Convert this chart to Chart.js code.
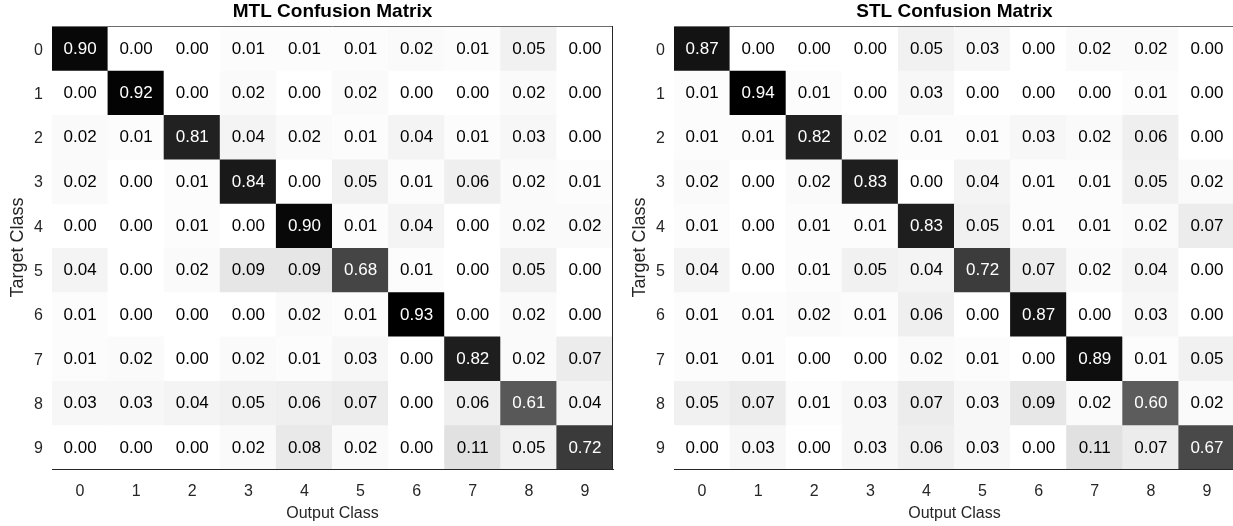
<!DOCTYPE html>
<html>
<head>
<meta charset="utf-8">
<script src="https://cdn.jsdelivr.net/npm/chart.js@4/dist/chart.umd.min.js"></script>
<style>
  html, body { margin: 0; padding: 0; background: #fff; overflow: hidden; }
  body { width: 1233px; height: 526px; position: relative; }
  .panel { position: absolute; top: 0; width: 616px; height: 526px; }
  #left { left: 0; }
  #right { left: 622px; }
</style>
</head>
<body>
<div class="panel" id="left"><canvas id="mtl" width="616" height="526"></canvas></div>
<div class="panel" id="right"><canvas id="stl" width="616" height="526"></canvas></div>
<script>
// Class labels shared by both axes
const classLabels = ['0', '1', '2', '3', '4', '5', '6', '7', '8', '9'];

// Rows = target class, columns = output class
const mtlRow0 = [0.90, 0.00, 0.00, 0.01, 0.01, 0.01, 0.02, 0.01, 0.05, 0.00];
const mtlRow1 = [0.00, 0.92, 0.00, 0.02, 0.00, 0.02, 0.00, 0.00, 0.02, 0.00];
const mtlRow2 = [0.02, 0.01, 0.81, 0.04, 0.02, 0.01, 0.04, 0.01, 0.03, 0.00];
const mtlRow3 = [0.02, 0.00, 0.01, 0.84, 0.00, 0.05, 0.01, 0.06, 0.02, 0.01];
const mtlRow4 = [0.00, 0.00, 0.01, 0.00, 0.90, 0.01, 0.04, 0.00, 0.02, 0.02];
const mtlRow5 = [0.04, 0.00, 0.02, 0.09, 0.09, 0.68, 0.01, 0.00, 0.05, 0.00];
const mtlRow6 = [0.01, 0.00, 0.00, 0.00, 0.02, 0.01, 0.93, 0.00, 0.02, 0.00];
const mtlRow7 = [0.01, 0.02, 0.00, 0.02, 0.01, 0.03, 0.00, 0.82, 0.02, 0.07];
const mtlRow8 = [0.03, 0.03, 0.04, 0.05, 0.06, 0.07, 0.00, 0.06, 0.61, 0.04];
const mtlRow9 = [0.00, 0.00, 0.00, 0.02, 0.08, 0.02, 0.00, 0.11, 0.05, 0.72];

const stlRow0 = [0.87, 0.00, 0.00, 0.00, 0.05, 0.03, 0.00, 0.02, 0.02, 0.00];
const stlRow1 = [0.01, 0.94, 0.01, 0.00, 0.03, 0.00, 0.00, 0.00, 0.01, 0.00];
const stlRow2 = [0.01, 0.01, 0.82, 0.02, 0.01, 0.01, 0.03, 0.02, 0.06, 0.00];
const stlRow3 = [0.02, 0.00, 0.02, 0.83, 0.00, 0.04, 0.01, 0.01, 0.05, 0.02];
const stlRow4 = [0.01, 0.00, 0.01, 0.01, 0.83, 0.05, 0.01, 0.01, 0.02, 0.07];
const stlRow5 = [0.04, 0.00, 0.01, 0.05, 0.04, 0.72, 0.07, 0.02, 0.04, 0.00];
const stlRow6 = [0.01, 0.01, 0.02, 0.01, 0.06, 0.00, 0.87, 0.00, 0.03, 0.00];
const stlRow7 = [0.01, 0.01, 0.00, 0.00, 0.02, 0.01, 0.00, 0.89, 0.01, 0.05];
const stlRow8 = [0.05, 0.07, 0.01, 0.03, 0.07, 0.03, 0.09, 0.02, 0.60, 0.02];
const stlRow9 = [0.00, 0.03, 0.00, 0.03, 0.06, 0.03, 0.00, 0.11, 0.07, 0.67];

const mtlMatrix = [mtlRow0, mtlRow1, mtlRow2, mtlRow3, mtlRow4, mtlRow5, mtlRow6, mtlRow7, mtlRow8, mtlRow9];
const stlMatrix = [stlRow0, stlRow1, stlRow2, stlRow3, stlRow4, stlRow5, stlRow6, stlRow7, stlRow8, stlRow9];

const FONT = "'Liberation Sans', Arial, Helvetica, sans-serif";
const AXIS_COLOR = '#262626';

// Inverted gray colormap scaled to the matrix maximum
function grayFor(v, vmax) {
  const t = Math.max(0, Math.min(1, v / vmax));
  const g = Math.round(255 * (1 - t));
  return `rgb(${g},${g},${g})`;
}

// Writes each cell's value in its centre, white on dark cells
const cellLabels = {
  id: 'cellLabels',
  afterDatasetsDraw(chart) {
    const { ctx } = chart;
    const matrix = chart.config.options.plugins.cellLabels.matrix;
    ctx.save();
    ctx.font = `17px ${FONT}`;
    ctx.textAlign = 'center';
    ctx.textBaseline = 'middle';
    chart.data.datasets.forEach((ds, r) => {
      const meta = chart.getDatasetMeta(r);
      meta.data.forEach((bar, c) => {
        const v = matrix[r][c];
        const cy = (bar.y + bar.base) / 2;
        ctx.fillStyle = v > 0.5 ? '#ffffff' : '#000000';
        ctx.fillText(v.toFixed(2), bar.x, cy + 1);
      });
    });
    ctx.restore();
  }
};

// Closes the box around the plot area and writes the panel heading
const frameAndHeading = {
  id: 'frameAndHeading',
  afterDraw(chart) {
    const { ctx, chartArea: a } = chart;
    const heading = chart.config.options.plugins.frameAndHeading.text;
    ctx.save();
    ctx.lineWidth = 1;
    ctx.strokeStyle = '#6e6e6e';
    ctx.beginPath();
    ctx.moveTo(a.left, a.top + 0.5);
    ctx.lineTo(a.right, a.top + 0.5);
    ctx.stroke();
    ctx.strokeStyle = AXIS_COLOR;
    ctx.beginPath();
    ctx.moveTo(a.right - 0.5, a.top);
    ctx.lineTo(a.right - 0.5, a.bottom);
    ctx.stroke();
    ctx.fillStyle = '#000';
    ctx.font = `bold 19px ${FONT}`;
    ctx.textAlign = 'center';
    ctx.textBaseline = 'alphabetic';
    ctx.fillText(heading, (a.left + a.right) / 2, 17);
    ctx.restore();
  }
};

function buildMatrixChart(canvasId, heading, matrix) {
  const vmax = Math.max(...matrix.flat());
  const datasets = matrix.map((row, r) => ({
    label: classLabels[r],
    data: row.map(() => 1),
    backgroundColor: row.map(v => grayFor(v, vmax)),
    borderWidth: 0,
    inflateAmount: 0.5,
    barPercentage: 1,
    categoryPercentage: 1
  }));

  return new Chart(document.getElementById(canvasId), {
    type: 'bar',
    data: { labels: classLabels, datasets },
    plugins: [cellLabels, frameAndHeading],
    options: {
      responsive: false,
      animation: false,
      events: [],
      layout: { padding: { top: 26, right: 3, left: 0, bottom: 0 } },
      plugins: {
        legend: { display: false },
        tooltip: { enabled: false },
        cellLabels: { matrix },
        frameAndHeading: { text: heading }
      },
      scales: {
        x: {
          stacked: true,
          grid: { display: false, drawTicks: false },
          border: { display: true, color: AXIS_COLOR, width: 1 },
          ticks: { color: AXIS_COLOR, font: { family: FONT, size: 16 }, padding: 13, maxRotation: 0 },
          title: { display: true, text: 'Output Class', color: AXIS_COLOR, font: { family: FONT, size: 16 }, padding: { top: 0, bottom: 3 } },
          afterFit(scale) { scale.height = 57; }
        },
        y: {
          stacked: true,
          reverse: true,
          min: 0,
          max: classLabels.length,
          grid: { display: false, drawTicks: false },
          border: { display: true, color: AXIS_COLOR, width: 1 },
          afterBuildTicks(scale) {
            scale.ticks = classLabels.map((_, i) => ({ value: i + 0.5 }));
          },
          ticks: {
            color: AXIS_COLOR,
            font: { family: FONT, size: 16 },
            padding: 9,
            labelOffset: 2,
            callback: (v) => classLabels[Math.floor(v)]
          },
          title: { display: true, text: 'Target Class', color: AXIS_COLOR, font: { family: FONT, size: 18 }, padding: { top: 7, bottom: 0 } },
          afterFit(scale) { scale.width = 52; }
        }
      }
    }
  });
}

buildMatrixChart('mtl', 'MTL Confusion Matrix', mtlMatrix);
buildMatrixChart('stl', 'STL Confusion Matrix', stlMatrix);
</script>
</body>
</html>
